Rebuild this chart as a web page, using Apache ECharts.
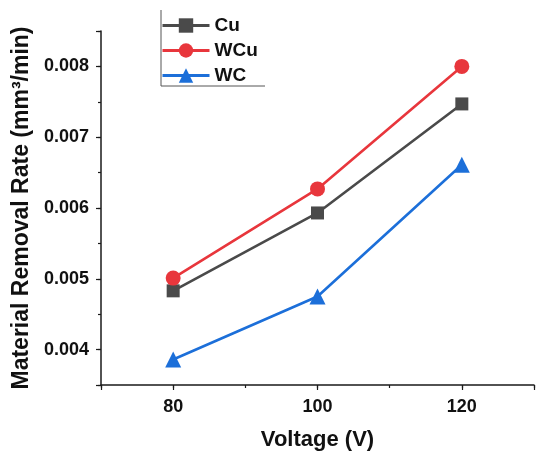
<!DOCTYPE html>
<html><head><meta charset="utf-8">
<script src="https://cdn.jsdelivr.net/npm/echarts@6/dist/echarts.min.js"></script>
<style>html,body{margin:0;padding:0;background:#fff}#c{width:537px;height:457px}</style>
</head><body><div id="c"></div>
<script>
const voltages = [80, 100, 120];
const cuValues = [0.00483, 0.00593, 0.00747];
const wcuValues = [0.00501, 0.00627, 0.00800];
const wcValues = [0.00386, 0.00475, 0.00661];
const seriesNames = ['Cu', 'WCu', 'WC'];
const xTickLabels = [80, 100, 120];
const yTickLabels = [0.004, 0.005, 0.006, 0.007, 0.008];

const pairs = v => voltages.map((x, i) => [x, v[i]]);
const font = 'Liberation Sans, Arial, sans-serif';
const chart = echarts.init(document.getElementById('c'), null, {renderer: 'canvas'});
const axisCol = '#1a1a1a';
chart.setOption({
  animation: false,
  grid: {left: 101, right: 0, top: 31, bottom: 72},
  legend: {
    orient: 'vertical', left: 161, top: 16, padding: 0,
    itemWidth: 47, itemHeight: 18, itemGap: 6,
    lineStyle: {width: 3},
    textStyle: {fontFamily: font, fontWeight: 'bold', fontSize: 19, color: '#111', lineHeight: 18},
    data: seriesNames
  },
  graphic: [{
    type: 'polyline', z: 10,
    shape: {points: [[161, 10], [161, 86], [265, 86]]},
    style: {stroke: '#555', lineWidth: 1, fill: null}
  }],
  xAxis: [{
    type: 'value', min: 70, max: 130, interval: 10,
    name: 'Voltage (V)', nameLocation: 'middle', nameGap: 44,
    nameTextStyle: {fontFamily: font, fontWeight: 'bold', fontSize: 22, color: '#111'},
    axisLine: {lineStyle: {color: axisCol, width: 1.5}},
    axisTick: {length: 3, lineStyle: {color: axisCol, width: 1.2}},
    splitLine: {show: false},
    axisLabel: {
      margin: 13, fontFamily: font, fontWeight: 'bold', fontSize: 18, color: '#111',
      formatter: v => xTickLabels.includes(Math.round(v)) ? String(Math.round(v)) : ''
    }
  }, {
    type: 'value', min: 70, max: 130, splitNumber: 3, position: 'bottom',
    axisLine: {show: false}, axisLabel: {show: false}, splitLine: {show: false},
    axisTick: {length: 5, lineStyle: {color: axisCol, width: 1.2}}
  }],
  yAxis: [{
    type: 'value', min: 0.0035, max: 0.0085, interval: 0.0005,
    name: 'Material Removal Rate (mm³/min)', nameLocation: 'middle', nameGap: 68,
    nameTextStyle: {fontFamily: font, fontWeight: 'bold', fontSize: 23, color: '#111'},
    axisLine: {show: true, lineStyle: {color: axisCol, width: 1.5}},
    axisTick: {show: true, length: 3, lineStyle: {color: axisCol, width: 1.2}},
    splitLine: {show: false},
    axisLabel: {
      margin: 12, fontFamily: font, fontWeight: 'bold', fontSize: 18, color: '#111',
      formatter: v => {
        const m = yTickLabels.find(t => Math.abs(t - v) < 1e-7);
        return m !== undefined ? m.toFixed(3) : '';
      }
    }
  }, {
    type: 'value', min: 0.0035, max: 0.0085, splitNumber: 5, position: 'left',
    axisLine: {show: false}, axisLabel: {show: false}, splitLine: {show: false},
    axisTick: {show: true, length: 5, lineStyle: {color: axisCol, width: 1.2}}
  }],
  series: [
    {name: 'Cu', type: 'line', data: pairs(cuValues), symbol: 'rect', symbolSize: 13,
     color: '#4a4a4a', lineStyle: {width: 2.6}},
    {name: 'WCu', type: 'line', data: pairs(wcuValues), symbol: 'circle', symbolSize: 15,
     color: '#e8363c', lineStyle: {width: 2.6}},
    {name: 'WC', type: 'line', data: pairs(wcValues), symbol: 'triangle', symbolSize: 16,
     color: '#1c6fd9', lineStyle: {width: 2.6}}
  ]
});
</script></body></html>
